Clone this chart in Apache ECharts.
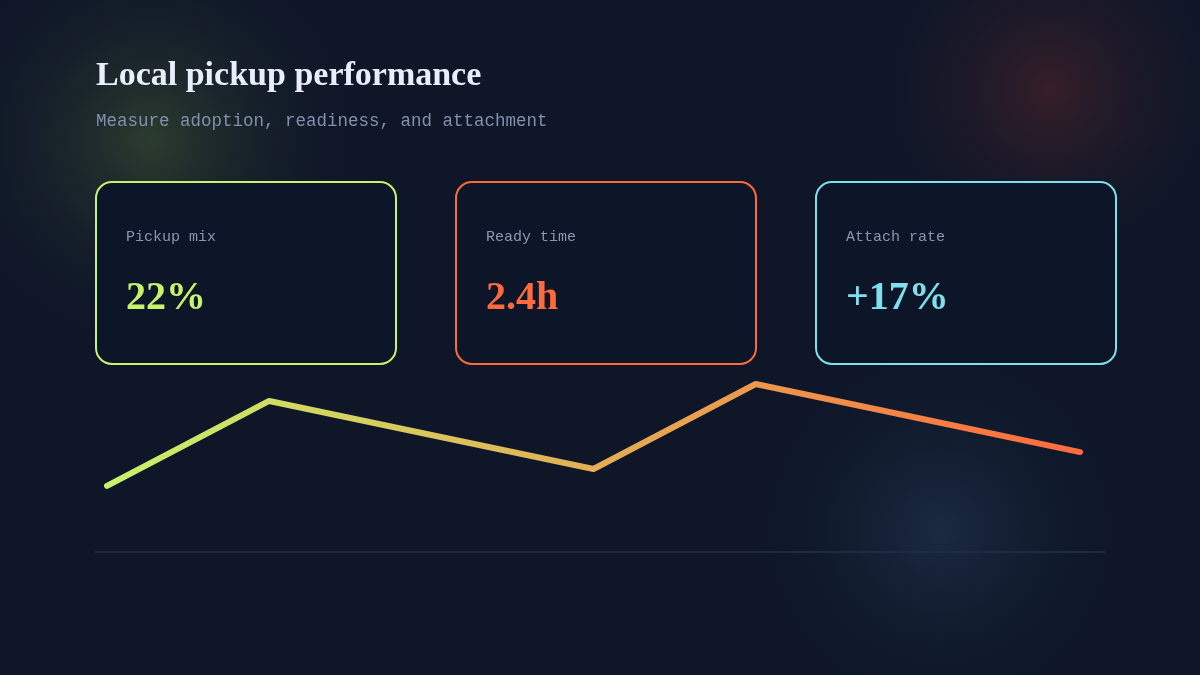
<!DOCTYPE html>
<html><head><meta charset="utf-8">
<script src="https://cdn.jsdelivr.net/npm/echarts@6/dist/echarts.min.js"></script>
<style>html,body{margin:0;padding:0;background:#0e1628;}#c{width:1200px;height:675px;}</style>
</head><body><div id="c"></div>
<script>
const title = "Local pickup performance";
const subtitle = "Measure adoption, readiness, and attachment";
const kpiLabels = ["Pickup mix", "Ready time", "Attach rate"];
const kpiValues = ["22%", "2.4h", "+17%"];
const kpiColors = ["#c6f36b", "#ff6a3d", "#7ee0ec"];
const xIdx = [0, 1, 2, 3, 4, 5, 6];
const trend = [36.3, 83, 64.3, 45.6, 92.3, 73.6, 54.9];

const chart = echarts.init(document.getElementById('c'));
const glow = (x, y, r, col) => ({
  type: 'circle', shape: {cx: x, cy: y, r: r}, silent: true, z: -10,
  style: {fill: new echarts.graphic.RadialGradient(0.5, 0.5, 0.5, [
    {offset: 0, color: col}, {offset: 1, color: 'rgba(14,22,40,0)'}])}
});
const graphics = [
  glow(150, 140, 230, 'rgba(110,140,60,0.32)'),
  glow(1050, 90, 210, 'rgba(120,45,40,0.38)'),
  glow(940, 530, 220, 'rgba(50,80,110,0.35)'),
  {type: 'text', left: 96, top: 59, style: {text: title, fill: '#e8eefc', font: 'bold 34px "Liberation Serif", serif'}},
  {type: 'text', left: 96, top: 112, style: {text: subtitle, fill: '#8190ad', font: '17.5px "Liberation Mono", monospace'}}
];
kpiLabels.forEach((l, i) => {
  const x = 96 + i * 360;
  graphics.push({type: 'rect', shape: {x: x, y: 182, width: 300, height: 182, r: 16},
    style: {fill: '#0d1628', stroke: kpiColors[i], lineWidth: 2}});
  graphics.push({type: 'text', left: x + 30, top: 230, style: {text: l, fill: '#8a96b0', font: '15px "Liberation Mono", monospace'}});
  graphics.push({type: 'text', left: x + 30, top: 279, style: {text: kpiValues[i], fill: kpiColors[i], font: 'bold 40px "Liberation Serif", serif'}});
});
chart.setOption({
  backgroundColor: '#0e1628',
  animation: false,
  graphic: graphics,
  grid: {left: 96, right: 96, top: 370, bottom: 123},
  xAxis: {type: 'value', min: -0.068, max: 6.148, show: true,
    axisLine: {show: true, lineStyle: {color: '#1f2b42', width: 2}}, axisTick: {show: false},
    axisLabel: {show: false}, splitLine: {show: false}},
  yAxis: {type: 'value', min: 0, max: 100, show: false},
  series: [{type: 'line', data: xIdx.map((x, i) => [x, trend[i]]), symbol: 'none',
    lineStyle: {width: 6, cap: 'round', join: 'round', color: new echarts.graphic.LinearGradient(0, 0, 1, 0, [
      {offset: 0, color: '#c6f36b'}, {offset: 1, color: '#ff6a3d'}])}}]
});
</script></body></html>
